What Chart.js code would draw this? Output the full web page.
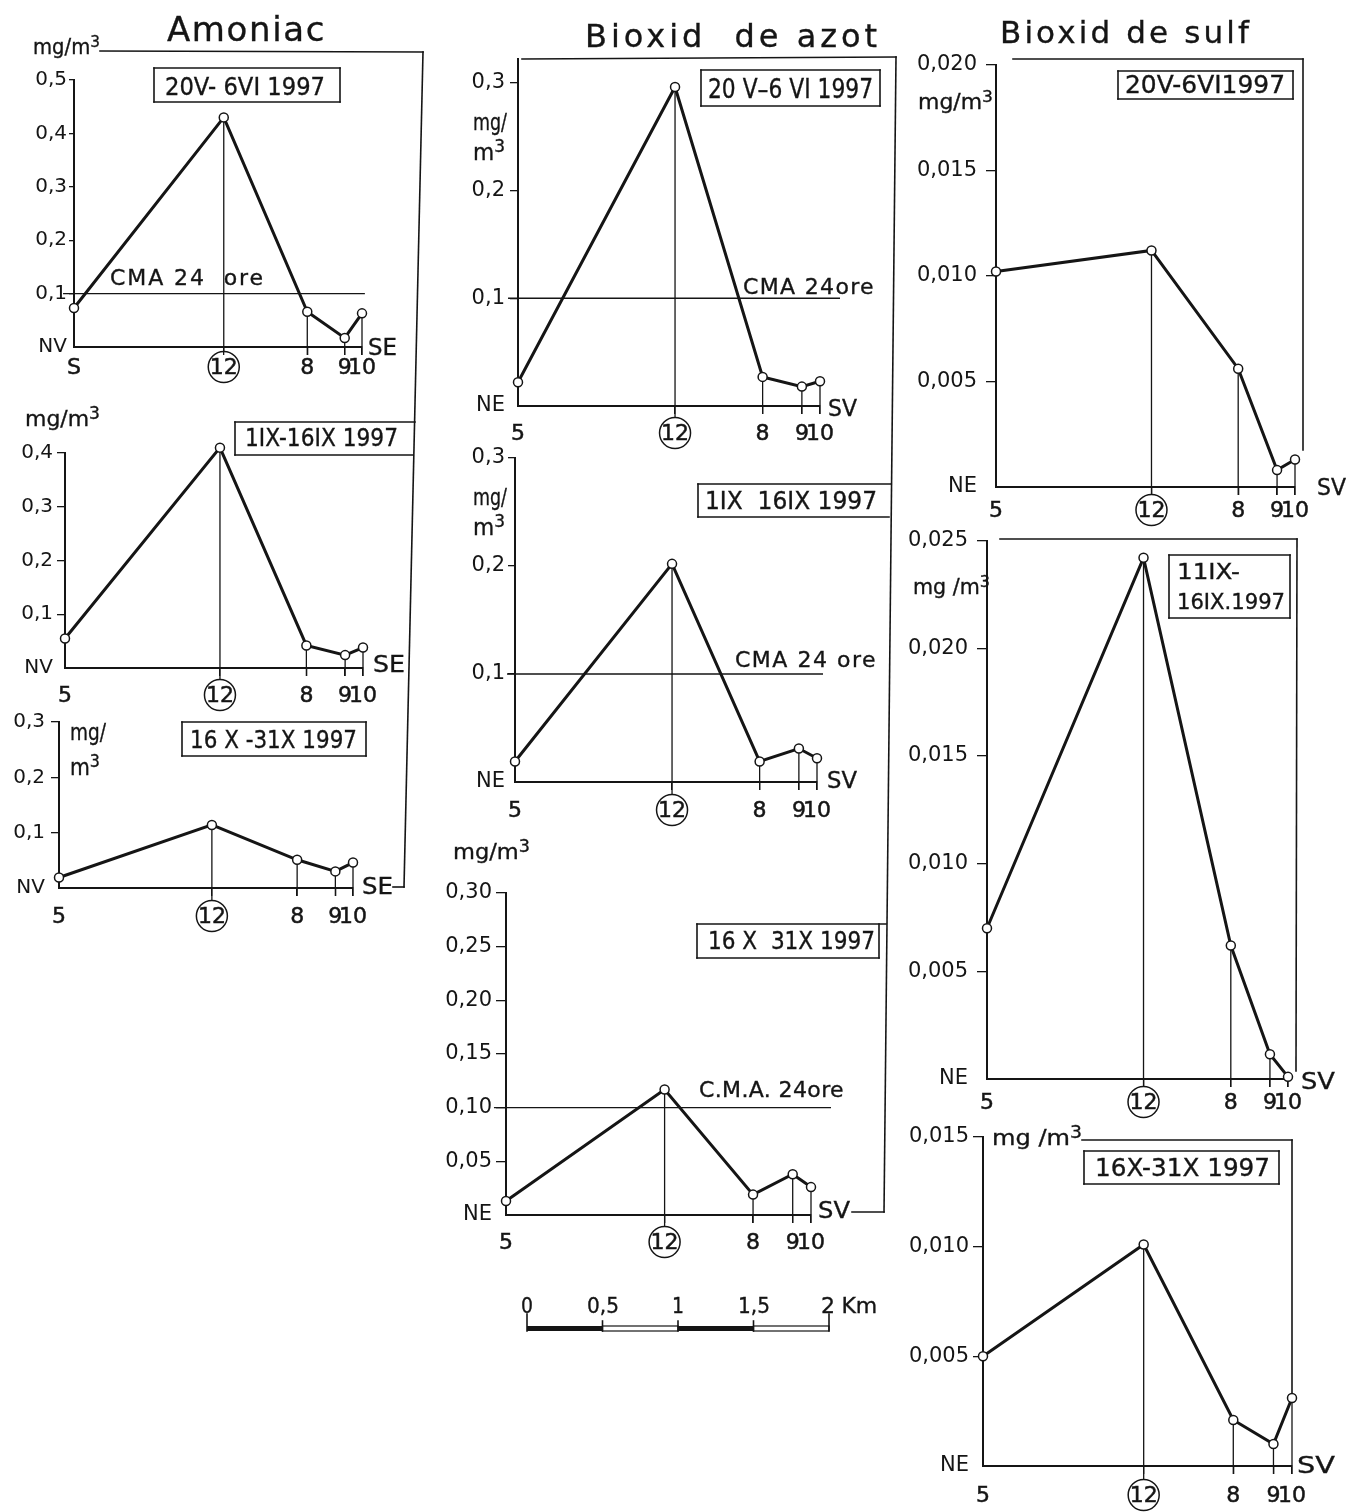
<!DOCTYPE html>
<html><head><meta charset="utf-8">
<script src="https://cdn.jsdelivr.net/npm/chart.js@4.4.1/dist/chart.umd.min.js"></script>
<style>
html,body{margin:0;padding:0;background:#fff;}
#page{position:relative;width:1346px;height:1512px;background:#fff;overflow:hidden;font-family:"DejaVu Sans",sans-serif;color:#151515;}
canvas.panel{position:absolute;}
#overlay{position:absolute;left:0;top:0;}
.t{position:absolute;white-space:pre;line-height:1;transform-origin:0 50%;-webkit-text-stroke:0.35px #151515;}
.sup{position:relative;top:-0.45em;font-size:0.78em;}
</style></head>
<body><div id="page"><canvas id="overlay" width="1346" height="1512"></canvas></div>
<script>
// ---------------- DATA ----------------
const stationLabels   = ['5','12','8','9','10'];
const stationLabelsA1 = ['S','12','8','9','10'];
const stationKm = [0, 1.04, 1.62, 1.88, 2.0];   // distance along profile (km)

const amoniac1 = [0.073, 0.43, 0.066, 0.017, 0.063];
const amoniac2 = [0.055, 0.41, 0.042, 0.024, 0.038];
const amoniac3 = [0.019, 0.114, 0.051, 0.030, 0.046];
const azot1 = [0.022, 0.296, 0.027, 0.018, 0.023];
const azot2 = [0.019, 0.202, 0.019, 0.031, 0.022];
const azot3 = [0.013, 0.117, 0.019, 0.038, 0.026];
const sulf1 = [0.0102, 0.0112, 0.0056, 0.0008, 0.0013];
const sulf2 = [0.0070, 0.0242, 0.0062, 0.00115, 0.0001];
const sulf3 = [0.0050, 0.0101, 0.0021, 0.0010, 0.0031];
const cmaLimit = 0.1;   // CMA 24 ore

const amoniacTicks1 = [0, 0.1, 0.2, 0.3, 0.4, 0.5];
const amoniacLabels1 = ['NV','0,1','0,2','0,3','0,4','0,5'];
const amoniacTicks2 = [0, 0.1, 0.2, 0.3, 0.4];
const amoniacLabels2 = ['NV','0,1','0,2','0,3','0,4'];
const amoniacTicks3 = [0, 0.1, 0.2, 0.3];
const amoniacLabels3 = ['NV','0,1','0,2','0,3'];
const azotTicks = [0, 0.1, 0.2, 0.3];
const azotLabels = ['NE','0,1','0,2','0,3'];
const azotTicks3 = [0, 0.05, 0.10, 0.15, 0.20, 0.25, 0.30];
const azotLabels3 = ['NE','0,05','0,10','0,15','0,20','0,25','0,30'];
const sulfTicks1 = [0, 0.005, 0.010, 0.015, 0.020];
const sulfLabels1 = ['NE','0,005','0,010','0,015','0,020'];
const sulfTicks2 = [0, 0.005, 0.010, 0.015, 0.020, 0.025];
const sulfLabels2 = ['NE','0,005','0,010','0,015','0,020','0,025'];
const sulfTicks3 = [0, 0.005, 0.010, 0.015];
const sulfLabels3 = ['NE','0,005','0,010','0,015'];

const titles = ['Amoniac', 'Bioxid  de azot', 'Bioxid de sulf'];
const periodsAmoniac = ['20V- 6VI 1997', '1IX-16IX 1997', '16 X -31X 1997'];
const periodsAzot = ['20 V–6 VI 1997', '1IX  16IX 1997', '16 X  31X 1997'];
const periodsSulf = ['20V-6VI1997', '11IX-', '16IX.1997', '16X-31X 1997'];
const scaleKm = [0, 0.5, 1, 1.5, 2];
const scaleKmLabels = ['0', '0,5', '1', '1,5', '2 Km'];

// ---------------- LAYOUT ----------------
const INK = '#151515';
const page = document.getElementById('page');
const panels = [
 {data:amoniac1, yt:amoniacTicks1, yl:amoniacLabels1, xl:stationLabelsA1, ax:74, rx:362, ty:80, by:347, ymax:0.5, tl:5, tp:2, yf:20, xoff:20, cma:[-0.076, 2.02]},
 {data:amoniac2, yt:amoniacTicks2, yl:amoniacLabels2, xl:stationLabels, ax:65, rx:363, ty:453, by:668, ymax:0.4, tl:8, tp:4, yf:20, xoff:27},
 {data:amoniac3, yt:amoniacTicks3, yl:amoniacLabels3, xl:stationLabels, ax:59, rx:353, ty:722, by:888, ymax:0.3, tl:8, tp:6, yf:20, xoff:28},
 {data:azot1, yt:azotTicks, yl:azotLabels, xl:stationLabels, ax:518, rx:820, ty:59, by:406, ymax:0.322, tl:8, tp:5, yf:21, xoff:27, cma:[-0.066, 2.41]},
 {data:azot2, yt:azotTicks, yl:azotLabels, xl:stationLabels, ax:515, rx:817, ty:458, by:782, ymax:0.3, tl:7, tp:3, yf:21, xoff:28, cma:[-0.053, 2.04]},
 {data:azot3, yt:azotTicks3, yl:azotLabels3, xl:stationLabels, ax:506, rx:811, ty:893, by:1215, ymax:0.3, tl:10, tp:4, yf:21, xoff:27, cma:[-0.079, 2.43]},
 {data:sulf1, yt:sulfTicks1, yl:sulfLabels1, xl:stationLabels, ax:996, rx:1295, ty:63, by:487, ymax:0.02, tl:10, tp:9, yf:21, xoff:23},
 {data:sulf2, yt:sulfTicks2, yl:sulfLabels2, xl:stationLabels, ax:987, rx:1288, ty:539, by:1079, ymax:0.025, tl:10, tp:9, yf:21, xoff:23},
 {data:sulf3, yt:sulfTicks3, yl:sulfLabels3, xl:stationLabels, ax:983, rx:1292, ty:1137, by:1466, ymax:0.015, tl:10, tp:4, yf:21, xoff:29}
];

function decorPlugin(p){
  return {
    id:'decor',
    beforeDatasetsDraw(chart){
      const ctx = chart.ctx, xs = chart.scales.x, ys = chart.scales.y;
      ctx.save();
      ctx.strokeStyle = INK; ctx.lineWidth = 1.3;
      for (let i = 1; i < stationKm.length; i++){
        const x = xs.getPixelForValue(stationKm[i]);
        ctx.beginPath();
        ctx.moveTo(x, ys.getPixelForValue(p.data[i]));
        ctx.lineTo(x, ys.bottom + (i === 1 ? p.xoff - 15 : 8));
        ctx.stroke();
      }
      if (p.cma){
        const y = ys.getPixelForValue(cmaLimit);
        ctx.beginPath();
        ctx.moveTo(xs.getPixelForValue(p.cma[0]), y);
        ctx.lineTo(xs.getPixelForValue(p.cma[1]), y);
        ctx.stroke();
      }
      ctx.restore();
    },
    afterDraw(chart){
      const ctx = chart.ctx, xs = chart.scales.x, ys = chart.scales.y;
      ctx.save();
      ctx.fillStyle = INK; ctx.strokeStyle = INK;
      ctx.font = '22px "DejaVu Sans"';
      ctx.textAlign = 'center'; ctx.textBaseline = 'middle';
      const yc = ys.bottom + p.xoff;
      p.xl.forEach((lab, i) => {
        const x = xs.getPixelForValue(stationKm[i]);
        ctx.lineWidth = 0.5;
        ctx.fillText(lab, x, yc + 1);
        ctx.strokeText(lab, x, yc + 1);
        if (i === 1){
          ctx.lineWidth = 1.5;
          ctx.beginPath(); ctx.arc(x, yc, 15.5, 0, Math.PI*2); ctx.stroke();
        }
      });
      ctx.restore();
    }
  };
}

function makePanel(p){
  const W = (p.rx - p.ax) + 110, H = (p.by - p.ty) + 70;
  const c = document.createElement('canvas');
  c.className = 'panel';
  c.width = W; c.height = H;
  c.style.left = (p.ax - 90) + 'px'; c.style.top = (p.ty - 20) + 'px';
  c.style.width = W + 'px'; c.style.height = H + 'px';
  page.appendChild(c);
  new Chart(c, {
    type: 'line',
    data: { datasets: [{
      data: p.data.map((v, i) => ({x: stationKm[i], y: v})),
      borderColor: INK, borderWidth: 3, tension: 0,
      pointRadius: 4.5, pointBackgroundColor: '#fff', pointBorderColor: INK, pointBorderWidth: 1.5,
      clip: false
    }]},
    options: {
      responsive: false, animation: false, devicePixelRatio: 1,
      events: [],
      plugins: { legend: {display: false}, tooltip: {enabled: false} },
      layout: { padding: {left: 0, top: 20, right: 20, bottom: 0} },
      scales: {
        x: {
          type: 'linear', min: 0, max: stationKm[stationKm.length - 1],
          afterFit: s => { s.height = 50; },
          afterBuildTicks: s => { s.ticks = stationKm.map(v => ({value: v})); },
          ticks: { display: false },
          grid: { drawOnChartArea: false, drawTicks: true, tickLength: 8, lineWidth: 1.3,
                  color: ctx => (ctx.tick && ctx.tick.value === 0) ? 'rgba(0,0,0,0)' : INK },
          border: { display: true, color: INK, width: 2 }
        },
        y: {
          type: 'linear', min: 0, max: p.ymax,
          afterFit: s => { s.width = 90; },
          afterBuildTicks: s => { s.ticks = p.yt.map(v => ({value: v})); },
          ticks: { autoSkip: false, padding: p.tp, color: INK,
                   font: {family: 'DejaVu Sans', size: p.yf},
                   callback: (v, i) => p.yl[i] },
          grid: { drawOnChartArea: false, drawTicks: true, tickLength: p.tl, lineWidth: 1.3,
                  color: ctx => (ctx.tick && ctx.tick.value === 0) ? 'rgba(0,0,0,0)' : INK },
          border: { display: true, color: INK, width: 2 }
        }
      }
    },
    plugins: [decorPlugin(p)]
  });
}
panels.forEach(makePanel);

// ---------------- TEXT ----------------
function addText(html, x1, x2, yc, size, mode){
  const d = document.createElement('div');
  d.className = 't';
  d.innerHTML = html;
  d.style.fontSize = size + 'px';
  d.style.left = x1 + 'px';
  d.style.top = (yc - 0.48 * size) + 'px';
  page.appendChild(d);
  const w = d.getBoundingClientRect().width;
  const target = x2 - x1;
  if (mode === 'space'){
    const n = d.textContent.length;
    d.style.letterSpacing = ((target - w) / n) + 'px';
  } else {
    d.style.transform = 'scaleX(' + (target / w) + ')';
  }
}
const MG = 'mg/m<span class="sup">3</span>';
const M3 = 'm<span class="sup">3</span>';
// titles
addText(titles[0], 167, 326, 28, 34, 'space');
addText(titles[1], 585, 881, 35, 32, 'space');
addText(titles[2], 1000, 1252, 32, 31, 'space');
// units
addText(MG, 33, 100, 47, 21);
addText(MG, 25, 100, 419, 22);
addText('mg/', 70, 106, 732, 23);
addText(M3, 70, 100, 767, 23);
addText('mg/', 473, 507, 122, 23);
addText(M3, 473, 505, 152, 23);
addText('mg/', 473, 507, 497, 23);
addText(M3, 473, 505, 527, 23);
addText(MG, 453, 530, 852, 22);
addText(MG, 918, 993, 102, 21);
addText('mg /m<span class="sup">3</span>', 913, 990, 587, 21);
addText('mg /m<span class="sup">3</span>', 992, 1082, 1138, 22);
// period boxes text
addText(periodsAmoniac[0], 165, 325, 86, 25);
addText(periodsAmoniac[1], 245, 398, 438, 24);
addText(periodsAmoniac[2], 190, 357, 740, 24);
addText(periodsAzot[0], 708, 873, 88, 26);
addText(periodsAzot[1], 705, 877, 501, 24);
addText(periodsAzot[2], 708, 875, 941, 24);
addText(periodsSulf[0], 1125, 1285, 85, 24);
addText(periodsSulf[1], 1177, 1240, 572, 22);
addText(periodsSulf[2], 1177, 1285, 602, 22);
addText(periodsSulf[3], 1095, 1270, 1168, 24);
// CMA labels
addText('CMA 24  ore', 110, 265, 278, 22, 'space');
addText('CMA 24ore', 743, 875, 287, 22, 'space');
addText('CMA 24 ore', 735, 877, 660, 22, 'space');
addText('C.M.A. 24ore', 699, 844, 1090, 22, 'space');
// end-of-profile directions
[['SE',368,397,347],['SE',373,405,664],['SE',362,393,886],
 ['SV',828,857,408],['SV',827,857,780],['SV',818,850,1210],
 ['SV',1317,1346,487],['SV',1301,1335,1081],['SV',1297,1335,1465]]
 .forEach(a => addText(a[0], a[1], a[2], a[3], 23));
// scale bar labels
const sbX0 = 527, sbPx = 151, sbY = 1326;
scaleKm.forEach((k, i) => {
  const cx = sbX0 + k * sbPx;
  if (i === scaleKm.length - 1) addText(scaleKmLabels[i], cx - 8, cx + 48, 1306, 22, 'space');
  else { const w = scaleKmLabels[i].length > 1 ? 32 : 12; addText(scaleKmLabels[i], cx - w/2, cx + w/2, 1306, 22); }
});

// ---------------- FRAMES / BOXES / SCALE BAR ----------------
const oc = document.getElementById('overlay').getContext('2d');
oc.strokeStyle = INK; oc.lineWidth = 1.6; oc.lineCap = 'square';
const segs = [
  [100,51,423,52],[423,52,404,887],[393,887,404,887],
  [522,59,896,57],[896,57,884,1212],[852,1212,884,1212],
  [1013,59,1303,59],[1303,59,1303,450],
  [1000,539,1297,539],[1297,539,1296,1071],
  [1082,1140,1292,1140],[1292,1140,1292,1395],
  // boxes
  [154,68,340,68],[340,68,340,102],[340,102,154,102],[154,102,154,68],
  [235,422,415,422],[235,422,235,455],[235,455,413,455],
  [182,722,366,722],[366,722,366,756],[366,756,182,756],[182,756,182,722],
  [701,70,880,70],[880,70,880,106],[880,106,701,106],[701,106,701,70],
  [698,484,891,484],[698,484,698,517],[698,517,889,517],
  [697,924,886,924],[879,924,879,958],[879,958,697,958],[697,958,697,924],
  [1118,71,1293,71],[1293,71,1293,99],[1293,99,1118,99],[1118,99,1118,71],
  [1169,555,1290,555],[1290,555,1290,618],[1290,618,1169,618],[1169,618,1169,555],
  [1084,1151,1279,1151],[1279,1151,1279,1184],[1279,1184,1084,1184],[1084,1184,1084,1151]
];
segs.forEach(s => { oc.beginPath(); oc.moveTo(s[0], s[1]); oc.lineTo(s[2], s[3]); oc.stroke(); });
// scale bar
for (let i = 0; i < scaleKm.length - 1; i++){
  const xa = sbX0 + scaleKm[i] * sbPx, xb = sbX0 + scaleKm[i+1] * sbPx;
  if (i % 2 === 0){ oc.fillStyle = INK; oc.fillRect(xa, sbY, xb - xa, 5); }
  else { oc.lineWidth = 1.2; oc.strokeRect(xa, sbY, xb - xa, 5); }
}
oc.lineWidth = 1.6;
scaleKm.forEach((k, i) => {
  const x = sbX0 + k * sbPx;
  const top = (i === 0 || i === scaleKm.length - 1) ? sbY - 12 : sbY - 5;
  oc.beginPath(); oc.moveTo(x, top); oc.lineTo(x, sbY + 5); oc.stroke();
});
</script>
</body></html>
